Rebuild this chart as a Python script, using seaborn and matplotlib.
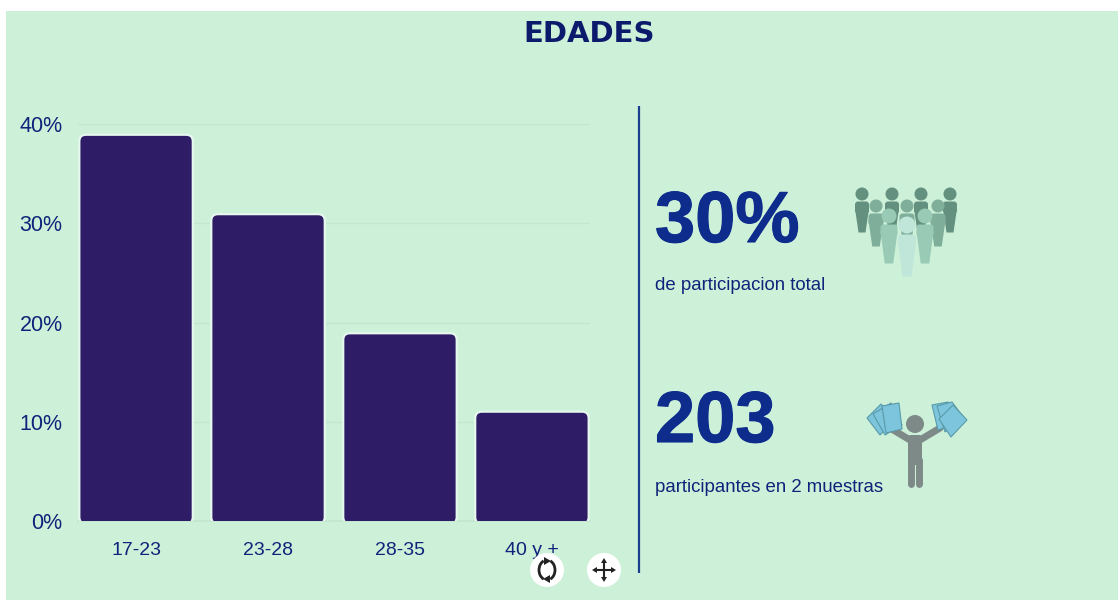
import matplotlib
matplotlib.use('Agg')
import matplotlib.pyplot as plt
import matplotlib.patheffects as pe
from matplotlib.patches import Circle, FancyBboxPatch, Rectangle, Polygon, Arc
import pandas as pd
import seaborn as sns

edades = ['17-23', '23-28', '28-35', '40 y +']
porcentajes = [38.9, 30.9, 18.9, 11.0]
ticks_y = [0, 10, 20, 30, 40]

W, H = 1118, 604
VERDE = '#cdf0d9'
MORADO = '#2f1c66'
AZUL = '#10237a'

sns.set_theme(style='white')
plt.rcParams['font.family'] = ['Liberation Sans', 'DejaVu Sans']

fig = plt.figure(figsize=(W / 100, H / 100), dpi=100, facecolor='white')


def caja(x0, y0, x1, y1):
    # pixeles de la imagen -> coordenadas de figura
    return [x0 / W, 1 - y1 / H, (x1 - x0) / W, (y1 - y0) / H]


# fondo verde
fondo = fig.add_axes([0, 0, 1, 1], zorder=0)
fondo.set_xlim(0, W)
fondo.set_ylim(H, 0)
fondo.axis('off')
fondo.add_patch(Rectangle((6, 11), W - 6, 589, color=VERDE, lw=0))

# grafico de barras
ax = fig.add_axes(caja(78, 124, 590, 521), zorder=1)
ax.patch.set_alpha(0)
df = pd.DataFrame({'edad': edades, 'pct': porcentajes})
sns.barplot(data=df, x='edad', y='pct', color=MORADO, width=0.86, ax=ax, zorder=3)
ax.set_xlim(-0.44, 3.44)
ax.set_ylim(0, 40)
ax.set_yticks(ticks_y)
ax.set_yticklabels([f'{t}%' for t in ticks_y], fontsize=15.5, color=AZUL)
ax.tick_params(axis='x', labelsize=14, labelcolor=AZUL, length=0, pad=15)
ax.tick_params(axis='y', length=0, pad=11)
ax.set_xlabel('')
ax.set_ylabel('')
ax.grid(axis='y', color='#c3e6d1', lw=0.9)
ax.set_axisbelow(True)
sns.despine(ax=ax, left=True, top=True, right=True)
ax.spines['bottom'].set_color('#c3e6d1')

# esquinas redondeadas
for p in list(ax.patches):
    x, y, w, h = p.get_x(), p.get_y(), p.get_width(), p.get_height()
    p.set_visible(False)
    ax.add_patch(FancyBboxPatch((x + 0.02, y), w - 0.04, h - 0.25,
                                boxstyle='round,pad=0.02,rounding_size=0.05',
                                mutation_aspect=40 / 397 * 512 / 3.88,
                                fc=MORADO, ec='#e6f8ee', lw=1.6, zorder=3))

# capa superior en pixeles
top = fig.add_axes([0, 0, 1, 1], zorder=2)
top.set_xlim(0, W)
top.set_ylim(H, 0)
top.axis('off')
top.patch.set_alpha(0)

top.text(589, 34, 'EDADES', fontsize=21, fontweight='bold', color='#0c1a6b', ha='center', va='center',
         family=['DejaVu Sans'])
top.plot([639, 639], [106, 573], color='#1b3f8f', lw=1.6, solid_capstyle='butt')

grueso = [pe.withStroke(linewidth=0.8, foreground='#0d2c8c')]
top.text(655, 223, '30%', fontsize=52, fontweight='bold', color='#0d2c8c', ha='left', va='center',
         path_effects=grueso)
top.text(655, 286, 'de participacion total', fontsize=13.4, color=AZUL, ha='left', va='center')
top.text(655, 423, '203', fontsize=52, fontweight='bold', color='#0d2c8c', ha='left', va='center',
         path_effects=grueso)
top.text(655, 487, 'participantes en 2 muestras', fontsize=13.4, color=AZUL, ha='left', va='center')


def persona(cx, cy, r, ancho, alto, color, z):
    top.add_patch(Circle((cx, cy), r, fc=color, ec='none', zorder=z))
    top.add_patch(FancyBboxPatch((cx - ancho / 2, cy + r + 1), ancho, 12,
                                 boxstyle='round,pad=0,rounding_size=3', fc=color, ec='none', zorder=z))
    top.add_patch(Polygon([(cx - ancho / 2, cy + r + 8), (cx + ancho / 2, cy + r + 8),
                           (cx + ancho / 4, cy + r + alto + 10), (cx - ancho / 4, cy + r + alto + 10)],
                          fc=color, ec='none', zorder=z))


# icono de grupo
for cx in (862, 892, 921, 950):
    persona(cx, 194, 6.5, 14, 22, '#63907f', 3)
for cx in (876, 907, 938):
    persona(cx, 206, 6.5, 15, 24, '#7fae9b', 4)
for cx in (889, 925):
    persona(cx, 216, 7.5, 17, 30, '#98cab5', 5)
persona(907, 225, 8.5, 18, 33, '#bfe6d8', 6)

# icono de persona con hojas
gris = '#7d8a88'
top.add_patch(Circle((915, 424), 9, fc=gris, ec='none'))
top.add_patch(FancyBboxPatch((908, 435), 14, 30, boxstyle='round,pad=0,rounding_size=3', fc=gris, ec='none'))
top.plot([911, 911], [460, 484], color=gris, lw=5, solid_capstyle='round')
top.plot([919, 919], [460, 484], color=gris, lw=5, solid_capstyle='round')
top.plot([910, 890], [440, 428], color=gris, lw=5, solid_capstyle='round')
top.plot([920, 940], [440, 428], color=gris, lw=5, solid_capstyle='round')
for pts in [[(867, 418), (881, 404), (895, 420), (880, 435)],
            [(873, 414), (891, 403), (902, 425), (885, 435)],
            [(882, 406), (899, 403), (902, 429), (886, 433)]]:
    top.add_patch(Polygon(pts, fc='#7cc5dc', ec='#5a9aa8', lw=0.8, zorder=3))
for pts in [[(932, 405), (948, 402), (955, 425), (938, 430)],
            [(937, 406), (952, 402), (964, 418), (945, 432)],
            [(939, 419), (953, 405), (967, 420), (951, 437)]]:
    top.add_patch(Polygon(pts, fc='#7cc5dc', ec='#5a9aa8', lw=0.8, zorder=3))

# botones de la interfaz
for cx in (547, 604):
    top.add_patch(Circle((cx, 570), 17, fc='white', ec='none', zorder=7))
oscuro = '#222222'
top.add_patch(Arc((547, 570), 16, 20, theta1=110, theta2=250, color=oscuro, lw=2, zorder=8))
top.add_patch(Arc((547, 570), 16, 20, theta1=-70, theta2=70, color=oscuro, lw=2, zorder=8))
top.add_patch(Polygon([(544, 557), (551, 561), (544, 565)], fc=oscuro, ec='none', zorder=8))
top.add_patch(Polygon([(550, 575), (543, 579), (550, 583)], fc=oscuro, ec='none', zorder=8))
top.plot([595, 613], [570, 570], color=oscuro, lw=1.5, zorder=8)
top.plot([604, 604], [561, 579], color=oscuro, lw=1.5, zorder=8)
for pts in [[(604, 558), (601, 563), (607, 563)], [(604, 582), (601, 577), (607, 577)],
            [(592, 570), (597, 567), (597, 573)], [(616, 570), (611, 567), (611, 573)]]:
    top.add_patch(Polygon(pts, fc=oscuro, ec='none', zorder=8))

fig.savefig('out.png', dpi=100)
